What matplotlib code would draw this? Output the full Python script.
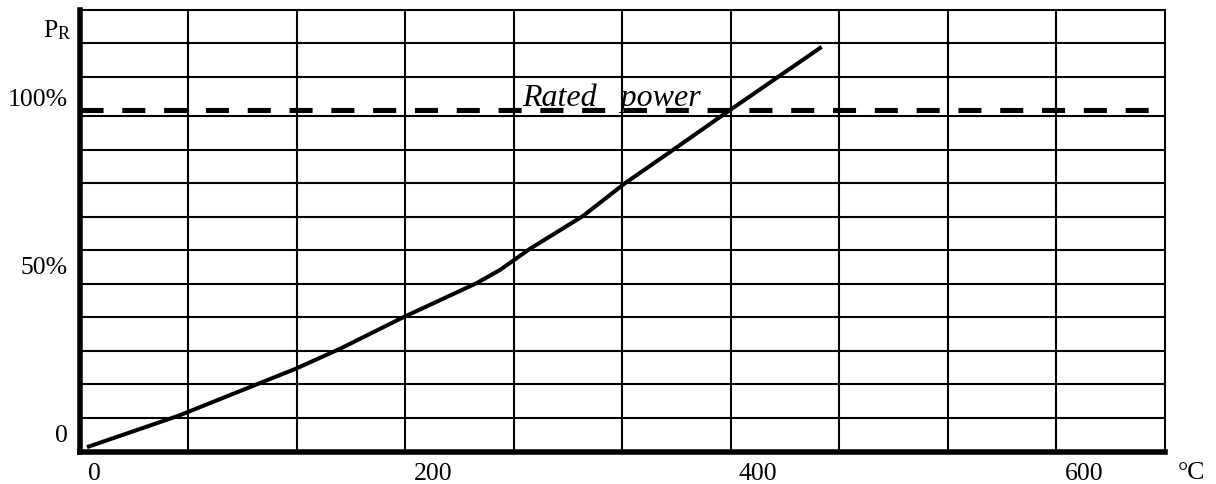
import matplotlib
matplotlib.use("Agg")
import matplotlib.pyplot as plt
import matplotlib.transforms as mtrans

# ---- data ----
temp_c = [4.6, 60.5, 110.9, 133.0, 160.0, 199.3, 244.1, 258.3,
          276.7, 309.4, 335.0, 364.7, 394.4, 456.0]
power_pct = [1.3, 10.6, 20.4, 24.7, 30.6, 40.1, 50.2, 54.1,
             60.4, 70.2, 79.9, 89.9, 100.0, 120.6]
rated_power_pct = 101.9
rated_label = "Rated   power"

x_tick_values = [0, 200, 400, 600]
x_tick_labels = ["0", "200", "400", "600"]
y_tick_values = [0, 50, 100]
y_tick_labels = ["0", "50%", "100%"]
x_unit = "°C"
y_name = "P"
y_sub = "R"

# grid cells of the printed chart
x_grid = [66.667 * k for k in range(1, 10)]
y_grid = [10, 20, 30, 40, 50, 60, 70, 80, 90, 100, 111.6, 121.8]
x_max = 666.67
y_max = 131.6
rated_end = 657.0

plt.rcParams["font.family"] = ["Liberation Serif", "DejaVu Serif"]
plt.rcParams["lines.scale_dashes"] = False

W, H = 1216, 484
fig = plt.figure(figsize=(W / 100, H / 100), dpi=100)
left_px, right_px, top_px, bottom_px = 79.5, 1164.5, 10.0, 451.5
ax = fig.add_axes([left_px / W, (H - bottom_px) / H,
                   (right_px - left_px) / W, (bottom_px - top_px) / H])
ax.set_xlim(0, x_max)
ax.set_ylim(0, y_max)

grid_lw = 1.5
for xv in x_grid:
    ax.axvline(xv, color="black", lw=grid_lw, zorder=1)
for yv in y_grid:
    ax.axhline(yv, color="black", lw=grid_lw, zorder=1)

for s in ["left", "bottom"]:
    ax.spines[s].set_linewidth(4.0)
for s in ["top", "right"]:
    ax.spines[s].set_linewidth(grid_lw)
for s in ax.spines.values():
    s.set_zorder(3)

# rated power dashed line
ax.plot([0, rated_end], [rated_power_pct, rated_power_pct], color="black",
        lw=3.7, linestyle=(0, (16.6, 13.5)), solid_capstyle="butt",
        dash_capstyle="butt", zorder=2)

# power curve
ax.plot(temp_c, power_pct, color="black", lw=2.9, solid_capstyle="butt",
        solid_joinstyle="round", zorder=4)

ax.text(271.8, 103.0, rated_label, fontsize=23, fontstyle="italic",
        ha="left", va="baseline", zorder=5)

# ticks
ax.set_xticks(x_tick_values, x_tick_labels)
ax.set_yticks(y_tick_values, y_tick_labels)
ax.tick_params(axis="both", length=0, pad=0, labelsize=18.5)
xoff = mtrans.ScaledTranslation(0.085, -0.285, fig.dpi_scale_trans)
for lbl in ax.get_xticklabels():
    lbl.set_ha("left")
    lbl.set_va("baseline")
    lbl.set_transform(lbl.get_transform() + xoff)
yoff = mtrans.ScaledTranslation(-0.115, 0.10, fig.dpi_scale_trans)
for lbl in ax.get_yticklabels():
    lbl.set_ha("right")
    lbl.set_va("baseline")
    lbl.set_transform(lbl.get_transform() + yoff)

# axis names
fig.text(1178 / W, (H - 479) / H, x_unit, fontsize=18.5, ha="left",
         va="baseline")
fig.text(43 / W, (H - 36.7) / H, y_name, fontsize=18.5, ha="left",
         va="baseline")
fig.text(57.5 / W, (H - 39.3) / H, y_sub, fontsize=13, ha="left",
         va="baseline")

fig.savefig("out.png", dpi=100)
